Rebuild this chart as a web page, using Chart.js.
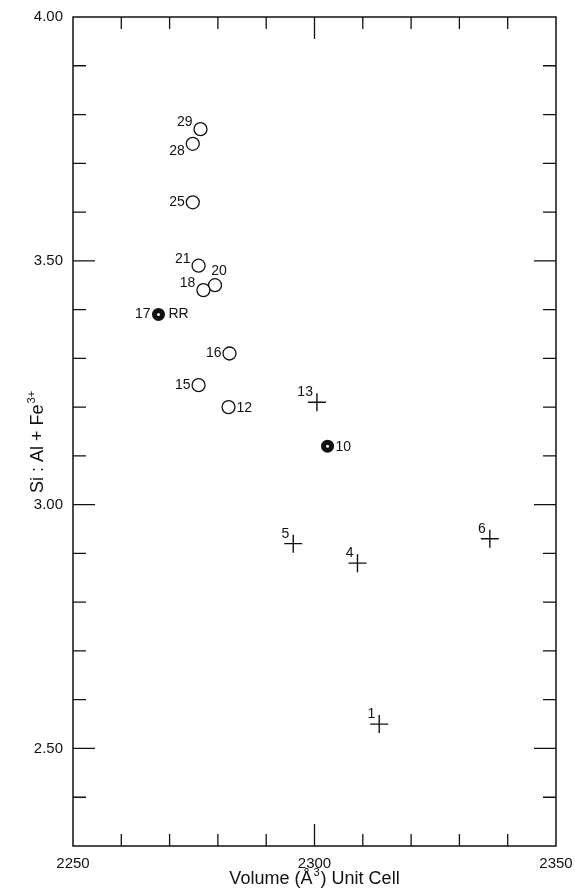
<!DOCTYPE html>
<html>
<head>
<meta charset="utf-8">
<script src="https://cdn.jsdelivr.net/npm/chart.js@4.4.1/dist/chart.umd.min.js"></script>
<style>
  body { margin: 0; background: #fff; }
</style>
</head>
<body>
<canvas id="plot" width="575" height="895"></canvas>
<script>
// sample numbers and values
var openIds   = ["29", "28", "25", "21", "20", "18", "16", "15", "12"];
var openVol   = [2276.4, 2274.8, 2274.8, 2276.0, 2279.4, 2277.0, 2282.4, 2276.0, 2282.2];
var openRatio = [3.77, 3.74, 3.62, 3.49, 3.45, 3.44, 3.31, 3.245, 3.20];

var filledIds   = ["17", "10"];
var filledVol   = [2267.7, 2302.7];
var filledRatio = [3.39, 3.12];
var filledNotes = ["RR", ""];

var crossIds   = ["13", "5", "4", "6", "1"];
var crossVol   = [2300.5, 2295.6, 2308.9, 2336.3, 2313.4];
var crossRatio = [3.21, 2.92, 2.88, 2.93, 2.55];

var xTickLabels = [2250, 2300, 2350];
var yTickLabels = [4.00, 3.50, 3.00, 2.50];

// where each number sits next to its mark
var openPos   = ["ul", "dl", "l", "ul", "u", "ul", "l", "l", "r"];
var filledPos = ["l", "r"];
var crossPos  = ["ux", "ux", "ux", "ux", "ux"];

var ink = "#111";
var fontFam = "'Liberation Sans', Arial, Helvetica, sans-serif";

var placements = {
  ul: { align: "right",  dx: -8, dy: -7 },
  dl: { align: "right",  dx: -8, dy: 7 },
  l:  { align: "right",  dx: -8, dy: 0 },
  u:  { align: "center", dx: 4,  dy: -14 },
  r:  { align: "left",   dx: 8,  dy: 1 },
  ux: { align: "right",  dx: -4, dy: -10 }
};

function toPoints(xs, ys) {
  var pts = [];
  for (var i = 0; i < xs.length; i++) pts.push({ x: xs[i], y: ys[i] });
  return pts;
}

function isMajor(list, v) {
  for (var i = 0; i < list.length; i++) {
    if (Math.abs(list[i] - v) < 1e-6) return true;
  }
  return false;
}

var pointLabels = {
  id: "pointLabels",
  afterDatasetsDraw: function (chart) {
    var ctx = chart.ctx;
    ctx.save();
    ctx.fillStyle = ink;
    ctx.font = "14px " + fontFam;
    ctx.textBaseline = "middle";
    chart.data.datasets.forEach(function (ds, di) {
      var meta = chart.getDatasetMeta(di);
      meta.data.forEach(function (el, i) {
        var p = placements[ds.labelPos[i]];
        ctx.textAlign = p.align;
        ctx.fillText(ds.ids[i], el.x + p.dx, el.y + p.dy);
        if (ds.notes && ds.notes[i]) {
          ctx.textAlign = "left";
          ctx.fillText(ds.notes[i], el.x + 10, el.y);
        }
      });
    });
    ctx.restore();
  }
};

// text with a small raised part (for the ³ and ³⁺)
function richText(ctx, parts, size, x, y, align) {
  var total = 0;
  parts.forEach(function (pt) {
    ctx.font = (pt.sup ? size * 0.62 : size) + "px " + fontFam;
    total += ctx.measureText(pt.t).width + (pt.sup ? 2 : 0);
  });
  var cx = align === "center" ? x - total / 2 : x;
  parts.forEach(function (pt) {
    ctx.font = (pt.sup ? size * 0.62 : size) + "px " + fontFam;
    if (pt.sup) cx += 1;
    ctx.fillText(pt.t, cx, pt.sup ? y - size * 0.42 : y);
    cx += ctx.measureText(pt.t).width + (pt.sup ? 1 : 0);
  });
}

var frame = {
  id: "frame",
  afterDraw: function (chart) {
    var ctx = chart.ctx, a = chart.chartArea;
    var xs = chart.scales.x, ys = chart.scales.y;
    ctx.save();
    ctx.strokeStyle = ink;
    ctx.lineWidth = 1.5;
    ctx.strokeRect(a.left, a.top, a.right - a.left, a.bottom - a.top);

    ctx.lineWidth = 1.3;
    ctx.beginPath();
    xs.ticks.forEach(function (t) {
      if (t.value <= xs.min || t.value >= xs.max) return;
      var px = xs.getPixelForValue(t.value);
      var len = isMajor(xTickLabels, t.value) ? 22 : 12;
      ctx.moveTo(px, a.bottom); ctx.lineTo(px, a.bottom - len);
      ctx.moveTo(px, a.top);    ctx.lineTo(px, a.top + len);
    });
    ys.ticks.forEach(function (t) {
      if (t.value <= ys.min + 1e-6 || t.value >= ys.max - 1e-6) return;
      var py = ys.getPixelForValue(t.value);
      var len = isMajor(yTickLabels, t.value) ? 22 : 13;
      ctx.moveTo(a.left, py);  ctx.lineTo(a.left + len, py);
      ctx.moveTo(a.right, py); ctx.lineTo(a.right - len, py);
    });
    ctx.stroke();

    // axis titles
    ctx.fillStyle = ink;
    ctx.textBaseline = "alphabetic";
    ctx.textAlign = "left";
    richText(ctx, [{ t: "Volume (Å" }, { t: "3", sup: true }, { t: ") Unit Cell" }],
      18, (a.left + a.right) / 2, 884, "center");

    ctx.translate(43, 493);
    ctx.rotate(-Math.PI / 2);
    richText(ctx, [{ t: "Si : Al + Fe" }, { t: "3+", sup: true }], 18, 0, 0, "left");
    ctx.restore();
  }
};

new Chart(document.getElementById("plot"), {
  type: "scatter",
  data: {
    datasets: [
      {
        data: toPoints(openVol, openRatio),
        ids: openIds, labelPos: openPos,
        pointStyle: "circle", pointRadius: 6.5, borderWidth: 1.3,
        borderColor: ink, backgroundColor: "#fff"
      },
      {
        data: toPoints(filledVol, filledRatio),
        ids: filledIds, labelPos: filledPos, notes: filledNotes,
        pointStyle: "circle", pointRadius: 4, borderWidth: 5,
        borderColor: ink, backgroundColor: "#fff"
      },
      {
        data: toPoints(crossVol, crossRatio),
        ids: crossIds, labelPos: crossPos,
        pointStyle: "cross", pointRadius: 9, borderWidth: 1.4,
        borderColor: ink, backgroundColor: ink
      }
    ]
  },
  options: {
    responsive: false,
    animation: false,
    layout: { padding: { top: 17, right: 19, left: 0, bottom: 0 } },
    plugins: { legend: { display: false }, tooltip: { enabled: false } },
    scales: {
      x: {
        type: "linear", min: 2250, max: 2350,
        grid: { display: false }, border: { display: false },
        ticks: {
          stepSize: 10, autoSkip: false, maxRotation: 0, padding: 1,
          color: ink, font: { family: fontFam, size: 15 },
          callback: function (v) { return isMajor(xTickLabels, v) ? String(v) : ""; }
        },
        afterFit: function (s) { s.height = 49; s.paddingLeft = 0; s.paddingRight = 0; }
      },
      y: {
        type: "linear", min: 2.3, max: 4.0,
        grid: { display: false }, border: { display: false },
        ticks: {
          stepSize: 0.1, autoSkip: false, padding: 2,
          color: ink, font: { family: fontFam, size: 15 },
          callback: function (v) { return isMajor(yTickLabels, v) ? v.toFixed(2) : ""; }
        },
        afterFit: function (s) { s.width = 73; s.paddingTop = 0; s.paddingBottom = 0; }
      }
    }
  },
  plugins: [pointLabels, frame]
});
</script>
</body>
</html>
